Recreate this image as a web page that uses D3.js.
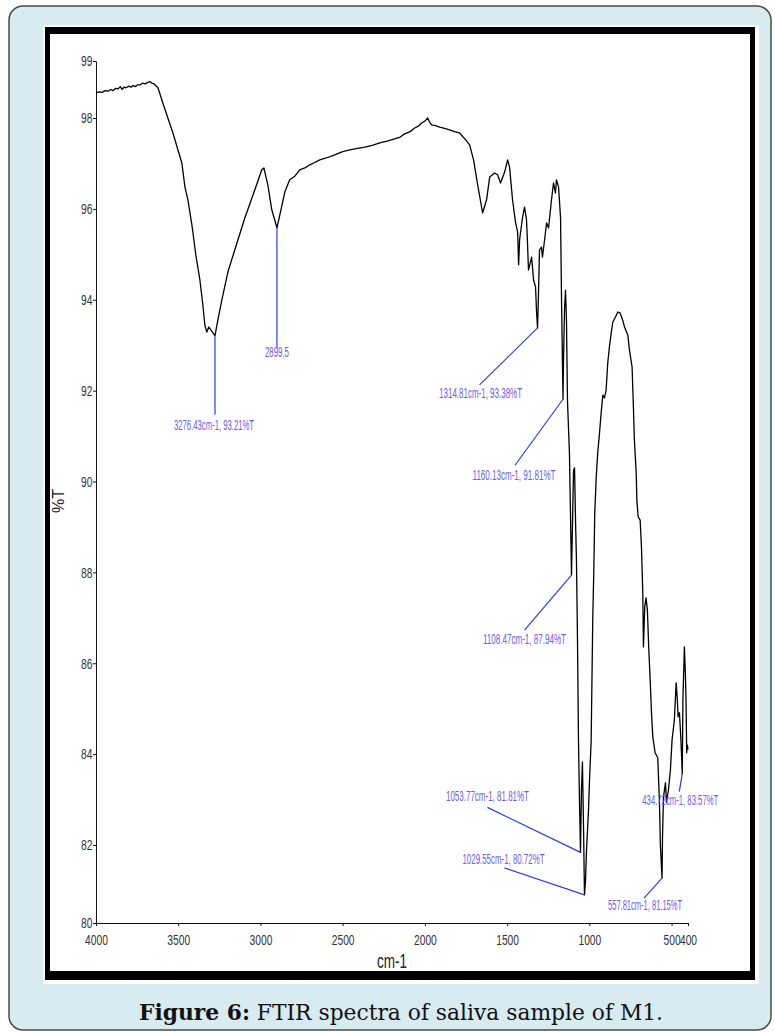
<!DOCTYPE html>
<head>
    <meta charset="utf-8">
    <title>Figure 6 - FTIR spectra of saliva sample of M1</title>
    <style>
        body { margin: 0; background: #fff; }
        svg { display: block; }
    </style>
</head>

<body>

<svg width="775" height="1033"></svg>

<script src="https://d3js.org/d3.v7.min.js"></script>

<script>
    // spectrum (cm-1, %T)
    const wavenumber = [
        4000, 3980, 3963, 3945, 3927, 3910, 3897, 3880, 3866, 3852, 3842, 3830, 3818, 3800, 3787, 3775,
        3763, 3748, 3733, 3718, 3702, 3688, 3672, 3660, 3648, 3623, 3593, 3563, 3532, 3502, 3478, 3459,
        3441, 3417, 3393, 3368, 3350, 3338, 3326, 3314, 3301, 3276.43, 3259, 3235, 3198, 3156, 3095, 3034,
        2992, 2979, 2955, 2931, 2899.5, 2882, 2852, 2822, 2791, 2761, 2730, 2700, 2670, 2639, 2600, 2548,
        2500, 2457, 2410, 2366, 2320, 2275, 2230, 2184, 2150, 2123, 2090, 2062, 2040, 2020, 2000, 1983,
        1970, 1959, 1935, 1910, 1880, 1850, 1820, 1789, 1752, 1728, 1704, 1679, 1649, 1625, 1606, 1576,
        1558, 1540, 1515, 1497, 1485, 1467, 1449, 1436, 1430, 1424, 1406, 1394, 1382, 1376, 1370, 1351,
        1339, 1327, 1321, 1314.81, 1309, 1303, 1291, 1285, 1272, 1260, 1248, 1230, 1218, 1206, 1200, 1187,
        1175, 1169, 1160.13, 1157, 1151, 1145, 1139, 1133, 1121, 1114, 1108.47, 1102, 1096, 1090, 1084, 1078,
        1072, 1066, 1060, 1053.77, 1048, 1042, 1035, 1029.55, 1023, 1017, 1005, 999, 989, 983, 979, 973,
        967, 958, 949, 938, 928, 918, 908, 898, 888, 878, 867, 857, 841, 827, 813, 797,
        786, 766, 756, 740, 732, 726, 715, 711, 703, 691, 683, 675, 671, 663, 655, 647,
        639, 630, 622, 614, 600, 584, 574, 568, 557.81, 555, 549, 537, 531, 519, 507, 497,
        483, 472, 466, 460, 452, 443, 434.72, 431, 422, 416, 412, 408, 404, 400
    ];
    const transmittance = [
        98.44, 98.46, 98.45, 98.48, 98.47, 98.50, 98.48, 98.52, 98.51, 98.55, 98.50, 98.54, 98.53, 98.56, 98.54, 98.57,
        98.55, 98.58, 98.58, 98.61, 98.60, 98.62, 98.64, 98.61, 98.60, 98.53, 98.26, 98.00, 97.67, 97.30, 97.01, 96.48,
        96.20, 95.65, 94.99, 94.43, 93.88, 93.44, 93.29, 93.40, 93.33, 93.21, 93.55, 93.99, 94.61, 95.10, 95.80, 96.42,
        96.86, 96.90, 96.53, 95.98, 95.58, 95.87, 96.37, 96.64, 96.72, 96.86, 96.90, 96.97, 97.02, 97.08, 97.12, 97.19,
        97.26, 97.30, 97.33, 97.36, 97.40, 97.45, 97.49, 97.54, 97.58, 97.65, 97.70, 97.78, 97.82, 97.89, 97.93, 98.00,
        97.90, 97.85, 97.83, 97.80, 97.77, 97.74, 97.70, 97.67, 97.52, 97.41, 97.08, 96.53, 95.91, 96.20, 96.70, 96.79,
        96.75, 96.57, 96.81, 97.08, 96.92, 96.20, 95.71, 95.49, 94.77, 95.32, 95.82, 96.04, 95.76, 95.25, 94.65, 94.94,
        94.43, 94.28, 93.73, 93.38, 94.15, 95.10, 95.16, 94.94, 95.32, 95.69, 95.58, 96.20, 96.57, 96.35, 96.64, 96.48,
        95.80, 93.99, 91.81, 92.67, 93.77, 94.21, 93.55, 91.79, 90.63, 89.15, 87.94, 89.15, 90.25, 90.30, 89.15, 88.21,
        86.51, 84.31, 82.99, 81.81, 83.21, 83.83, 82.33, 80.72, 81.11, 81.87, 82.77, 83.43, 84.27, 85.92, 87.02, 87.99,
        89.31, 90.10, 90.63, 91.07, 91.51, 91.90, 91.84, 92.01, 92.61, 92.96, 93.27, 93.51, 93.62, 93.73, 93.71, 93.55,
        93.40, 93.22, 92.89, 92.52, 91.64, 90.91, 90.19, 89.59, 89.22, 89.15, 88.56, 87.55, 86.36, 87.24, 87.44, 87.17,
        86.36, 85.63, 84.91, 84.38, 84.03, 83.92, 82.99, 82.00, 81.15, 82.18, 83.06, 83.37, 82.93, 83.21, 83.65, 84.31,
        84.75, 85.57, 85.26, 84.82, 84.91, 84.31, 83.57, 85.19, 86.36, 85.79, 85.19, 84.03, 84.20, 84.10
    ];

    // picked peaks
    const peakWavenumber = [3276.43, 2899.5, 1314.81, 1160.13, 1108.47, 1053.77, 1029.55, 557.81, 434.72];
    const peakTransmittance = [93.21, 95.58, 93.38, 91.81, 87.94, 81.81, 80.72, 81.15, 83.57];
    const peakLabels = [
        "3276.43cm-1, 93.21%T", "2899.5", "1314.81cm-1, 93.38%T", "1160.13cm-1, 91.81%T",
        "1108.47cm-1, 87.94%T", "1053.77cm-1, 81.81%T", "1029.55cm-1, 80.72%T",
        "557.81cm-1, 81.15%T", "434.72cm-1, 83.57%T"
    ];

    const xTicks = [4000, 3500, 3000, 2500, 2000, 1500, 1000, 500, 400];
    const yTicks = [80, 82, 84, 86, 88, 90, 92, 94, 96, 98, 99];

    // where each peak label sits relative to its peak: [lineDx, lineDy, textDx, textDy, textWidth]
    const labelOffsets = [
        [0, 79, -1, 94, 80],
        [0, 120, 0, 129, 24],
        [-58, 57, -57, 70, 83],
        [-48, 66, -49, 81, 83],
        [-47, 55, -47, 69, 83],
        [-93, -45, -93, -51, 83],
        [-80, -27, -81, -31, 82],
        [-18, 20, -17, 32, 74],
        [-3, 18, -2, 31, 76]
    ];

    const svg = d3.select("svg");

    // page panel + framed picture
    svg.append("rect")
        .attr("x", 9).attr("y", 6)
        .attr("width", 762).attr("height", 1024)
        .attr("rx", 14)
        .attr("fill", "#d8ebf1")
        .attr("stroke", "#4a4a4a")
        .attr("stroke-width", 1.5);

    svg.append("rect")
        .attr("x", 43).attr("y", 25)
        .attr("width", 716).attr("height", 959)
        .attr("fill", "#fff");

    svg.append("rect")
        .attr("x", 45).attr("y", 27)
        .attr("width", 710).attr("height", 953)
        .attr("fill", "#000");

    svg.append("rect")
        .attr("x", 50).attr("y", 34)
        .attr("width", 700).attr("height", 937)
        .attr("fill", "#fff");

    const x = d3.scaleLinear().domain([4000, 400]).range([96, 688]);
    // the instrument's y axis is not evenly spaced at the ends
    const y = d3.scaleLinear().domain([80, 82, 98, 99]).range([923, 845, 118, 61]);

    function squeeze(sel, perChar) {
        sel.attr("textLength", function() { return this.textContent.length * perChar; })
            .attr("lengthAdjust", "spacingAndGlyphs");
    }

    const xAxis = svg.append("g")
        .attr("transform", "translate(0,923)")
        .call(d3.axisBottom(x).tickValues(xTicks).tickSize(3).tickSizeOuter(0).tickPadding(8).tickFormat(d3.format("d")));

    const yAxis = svg.append("g")
        .attr("transform", "translate(96,0)")
        .call(d3.axisLeft(y).tickValues(yTicks).tickSize(3).tickSizeOuter(0).tickPadding(0.5).tickFormat(d3.format("d")));

    [xAxis, yAxis].forEach(ax => {
        ax.select(".domain").attr("stroke", "#111");
        ax.selectAll(".tick line").attr("stroke", "#111");
        ax.selectAll("text")
            .attr("fill", "#333")
            .style("font-family", "'Liberation Sans', Arial, sans-serif")
            .style("font-size", "15px")
            .call(squeeze, 5.7);
    });

    svg.append("text")
        .attr("transform", "translate(64,501) rotate(-90)")
        .attr("text-anchor", "middle")
        .attr("fill", "#222")
        .style("font-family", "'Liberation Sans', Arial, sans-serif")
        .style("font-size", "16px")
        .text("%T");

    svg.append("text")
        .attr("x", 392).attr("y", 968)
        .attr("text-anchor", "middle")
        .attr("fill", "#222")
        .attr("textLength", 30).attr("lengthAdjust", "spacingAndGlyphs")
        .style("font-family", "'Liberation Sans', Arial, sans-serif")
        .style("font-size", "20px")
        .text("cm-1");

    // spectrum
    const line = d3.line()
        .x(i => x(wavenumber[i]))
        .y(i => y(transmittance[i]));

    svg.append("path")
        .attr("d", line(d3.range(wavenumber.length)))
        .attr("fill", "none")
        .attr("stroke", "#000")
        .attr("stroke-width", 1.3)
        .attr("stroke-linejoin", "round");

    // peak picks
    const peaks = svg.append("g");
    peakWavenumber.forEach((w, i) => {
        const px = x(w), py = y(peakTransmittance[i]);
        const o = labelOffsets[i];
        peaks.append("line")
            .attr("x1", px).attr("y1", py)
            .attr("x2", px + o[0]).attr("y2", py + o[1])
            .attr("stroke", "#2b3cf0")
            .attr("stroke-width", 1.2);
        peaks.append("text")
            .attr("x", px + o[2]).attr("y", py + o[3])
            .attr("text-anchor", "middle")
            .attr("fill", "#6a5cf6")
            .attr("textLength", o[4]).attr("lengthAdjust", "spacingAndGlyphs")
            .style("font-family", "'Liberation Sans', Arial, sans-serif")
            .style("font-size", "14px")
            .text(peakLabels[i]);
    });

    // caption
    const caption = svg.append("text")
        .attr("x", 401).attr("y", 1020)
        .attr("text-anchor", "middle")
        .attr("fill", "#111")
        .attr("textLength", 524).attr("lengthAdjust", "spacingAndGlyphs")
        .style("font-family", "'DejaVu Serif', 'Liberation Serif', serif")
        .style("font-size", "22px");
    caption.append("tspan").attr("font-weight", "bold").text("Figure 6:");
    caption.append("tspan").text(" FTIR spectra of saliva sample of M1.");

</script>

</body>
